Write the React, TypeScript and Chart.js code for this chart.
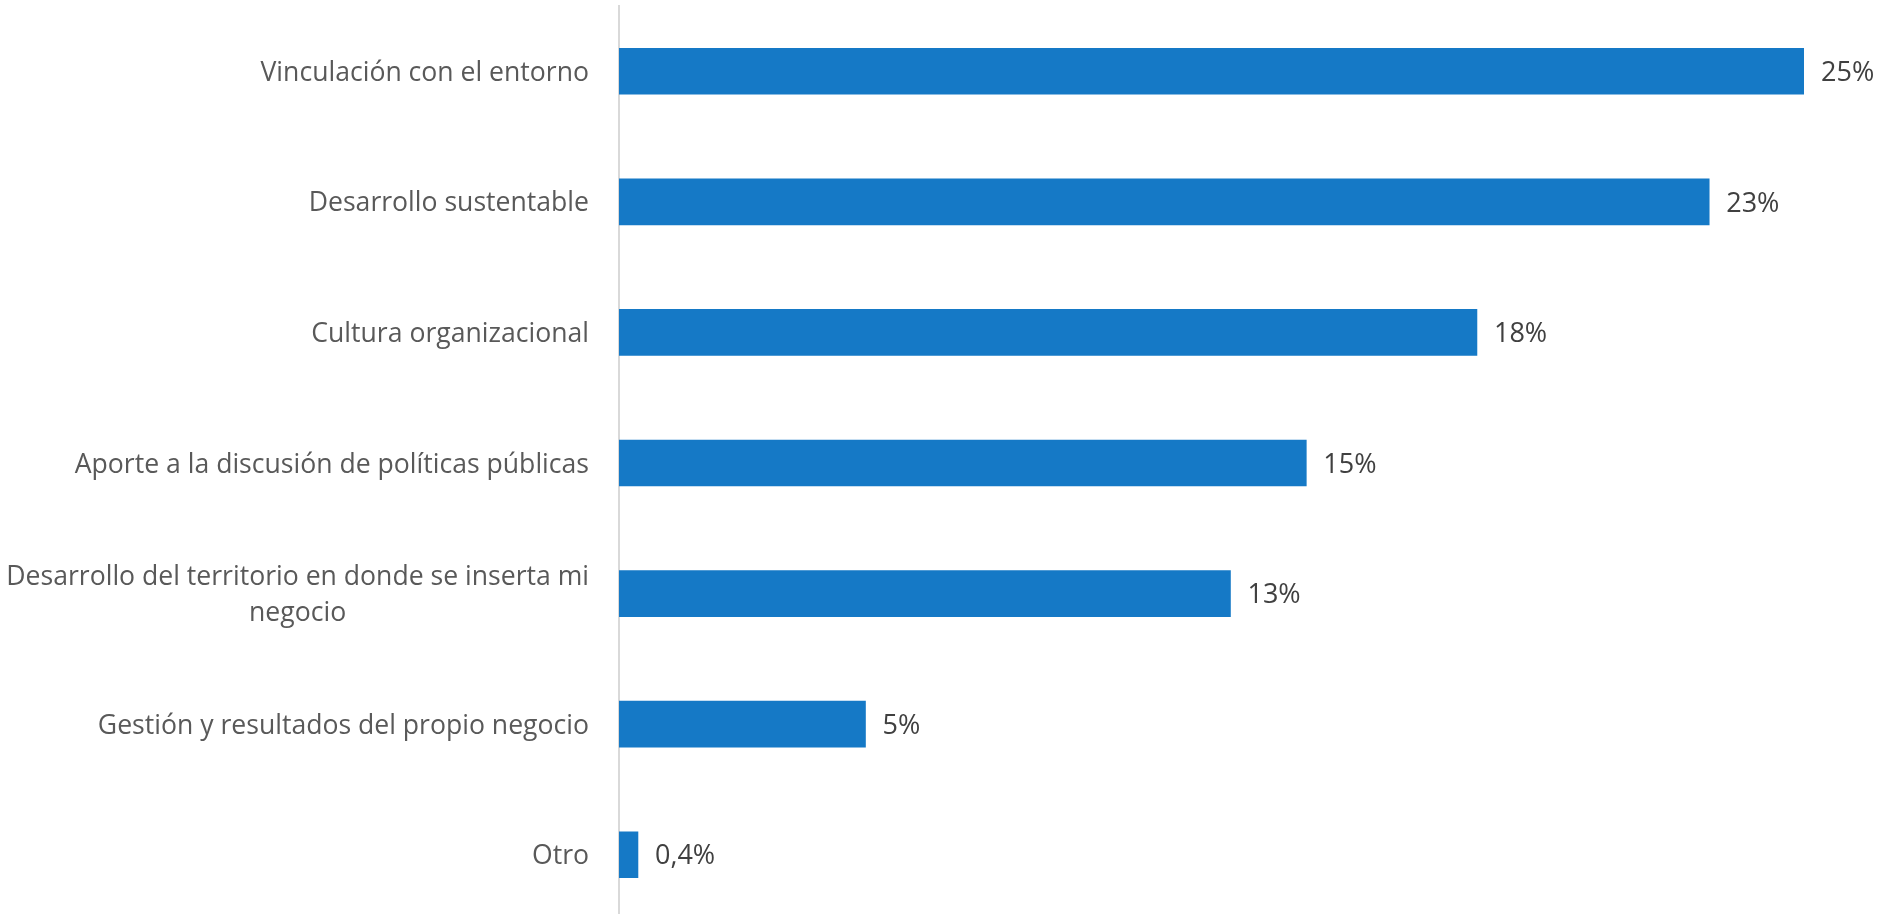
import React, { useEffect, useRef } from 'react';
import { Chart, registerables } from 'chart.js';

Chart.register(...registerables);

const categories: string[][] = [
  ['Vinculación con el entorno'],
  ['Desarrollo sustentable'],
  ['Cultura organizacional'],
  ['Aporte a la discusión de políticas públicas'],
  ['Desarrollo del territorio en donde se inserta mi', 'negocio'],
  ['Gestión y resultados del propio negocio'],
  ['Otro'],
];
const values: number[] = [25, 23, 18.1, 14.5, 12.9, 5.2, 0.4];
const valueLabels: string[] = ['25%', '23%', '18%', '15%', '13%', '5%', '0,4%'];

const FONT = '"Open Sans", "Noto Sans", sans-serif';

const labelPlugin = {
  id: 'customLabels',
  afterDraw(chart: any) {
    const ctx = chart.ctx;
    const yScale = chart.scales.y;
    const area = chart.chartArea;
    ctx.save();
    // category labels
    ctx.font = `26.6px ${FONT}`;
    ctx.fillStyle = '#595959';
    ctx.textAlign = 'center';
    ctx.textBaseline = 'middle';
    const lh = 36;
    categories.forEach((lines, i) => {
      const y = yScale.getPixelForValue(i);
      const maxW = Math.max(...lines.map((l) => ctx.measureText(l).width));
      const cx = area.left - 30 - maxW / 2;
      const y0 = y - ((lines.length - 1) * lh) / 2 + 2;
      lines.forEach((l, j) => ctx.fillText(l, cx, y0 + j * lh));
    });
    // value labels
    const meta = chart.getDatasetMeta(0);
    ctx.font = `27px ${FONT}`;
    ctx.fillStyle = '#404040';
    ctx.textAlign = 'left';
    meta.data.forEach((bar: any, i: number) => {
      ctx.fillText(valueLabels[i], bar.x + 17, bar.y + 2);
    });
    ctx.restore();
  },
};

export default function App() {
  const ref = useRef<HTMLCanvasElement>(null);
  useEffect(() => {
    if (!ref.current) return;
    const chart = new Chart(ref.current, {
      type: 'bar',
      data: {
        labels: categories.map((c) => c.join(' ')),
        datasets: [
          {
            data: values,
            backgroundColor: '#1579C6',
            borderWidth: 0,
            barThickness: 46,
          },
        ],
      },
      options: {
        indexAxis: 'y',
        animation: false,
        responsive: true,
        maintainAspectRatio: false,
        layout: { padding: { left: 619, right: 78, top: 6, bottom: 0 } },
        plugins: { legend: { display: false }, tooltip: { enabled: false } },
        scales: {
          x: { display: false, min: 0, max: 25 },
          y: {
            display: true,
            ticks: { display: false },
            grid: { display: false, drawTicks: false },
            border: { color: '#d9d9d9', width: 2 },
            afterFit: (s: any) => {
              s.width = 0;
            },
          },
        },
      },
      plugins: [labelPlugin],
    });
    return () => chart.destroy();
  }, []);
  return (
    <div style={{ position: 'fixed', left: 0, top: 0, width: 1882, height: 920, background: '#fff' }}>
      <canvas ref={ref} />
    </div>
  );
}
